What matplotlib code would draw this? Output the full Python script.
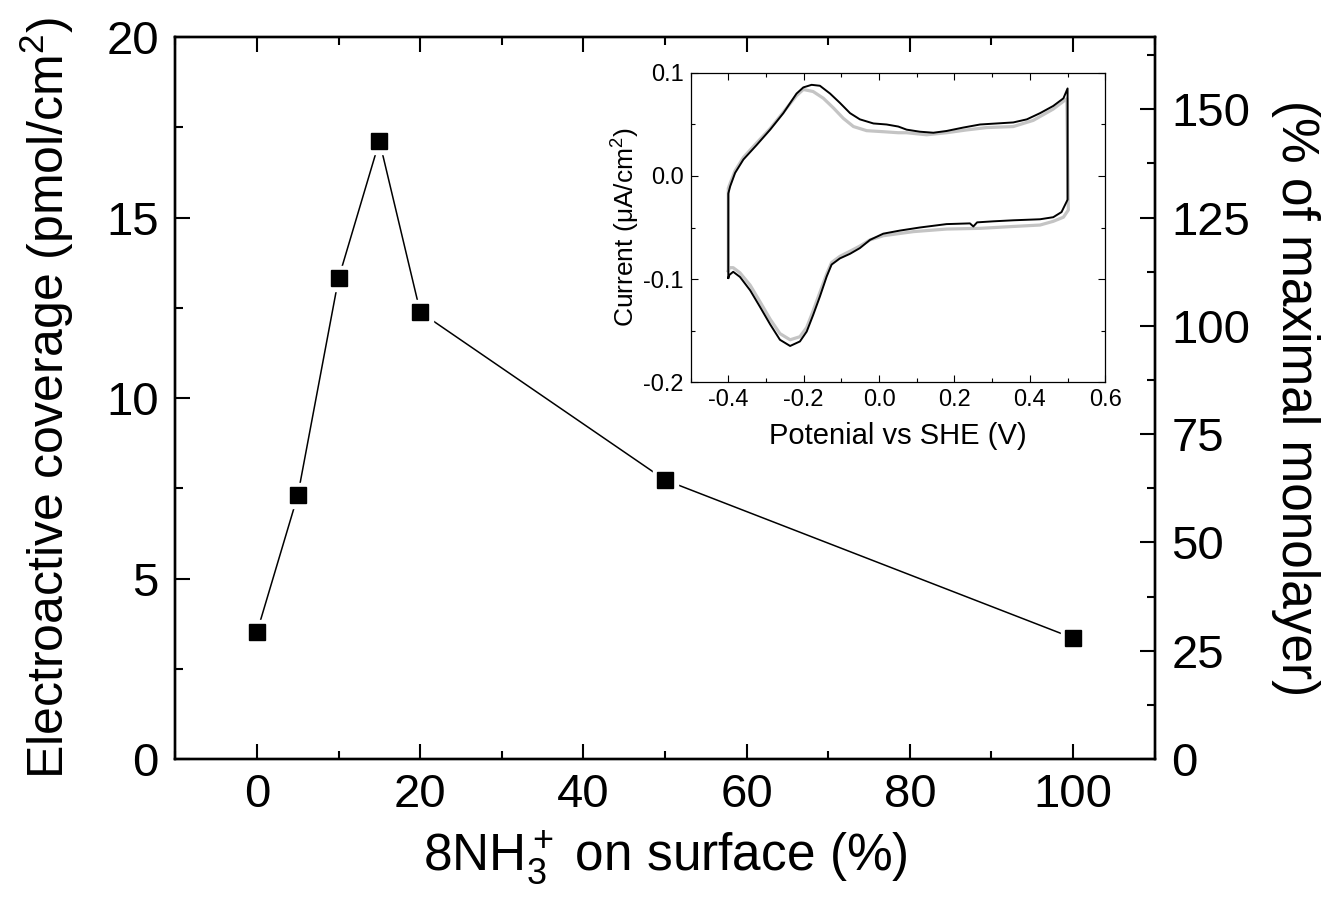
import matplotlib
matplotlib.use('Agg')
import matplotlib.pyplot as plt
from matplotlib.ticker import MultipleLocator
import numpy as np

plt.rcParams['font.family'] = ['Liberation Sans', 'DejaVu Sans']
plt.rcParams['mathtext.fontset'] = 'custom'
plt.rcParams['mathtext.rm'] = 'Liberation Sans'
plt.rcParams['mathtext.it'] = 'Liberation Sans:italic'

# main data: surface fraction of 8NH3+ vs electroactive coverage
nh3_percent = [0, 5, 10, 15, 20, 50, 100]
coverage = [3.52, 7.31, 13.32, 17.12, 12.38, 7.73, 3.35]
monolayer_pmol = 12.0  # 100 % of maximal monolayer

# inset: cyclic voltammograms (black and grey scans)
v_black_up = [-0.400, -0.400, -0.395, -0.382, -0.360, -0.325, -0.289, -0.254, -0.219, -0.201,
              -0.179, -0.157, -0.130, -0.104, -0.077, -0.051, -0.015, 0.020, 0.051, 0.073,
              0.108, 0.144, 0.179, 0.223, 0.268, 0.312, 0.356, 0.392, 0.427, 0.462, 0.489, 0.500]
i_black_up = [-0.099, -0.017, -0.010, 0.003, 0.016, 0.030, 0.045, 0.061, 0.080, 0.086,
              0.0885, 0.0876, 0.080, 0.071, 0.061, 0.055, 0.051, 0.050, 0.048, 0.045,
              0.043, 0.042, 0.0437, 0.047, 0.050, 0.051, 0.052, 0.055, 0.061, 0.068, 0.0754, 0.085]
v_black_dn = [0.500, 0.484, 0.462, 0.427, 0.356, 0.303, 0.260, 0.250, 0.241, 0.179, 0.108,
              0.055, 0.011, -0.024, -0.051, -0.077, -0.104, -0.126, -0.139, -0.157, -0.175,
              -0.192, -0.210, -0.236, -0.263, -0.289, -0.316, -0.342, -0.369, -0.387, -0.397, -0.400]
i_black_dn = [-0.023, -0.035, -0.040, -0.042, -0.043, -0.044, -0.045, -0.049, -0.046, -0.0467, -0.050,
              -0.053, -0.056, -0.062, -0.070, -0.0755, -0.080, -0.086, -0.0975, -0.117, -0.135,
              -0.151, -0.1606, -0.165, -0.159, -0.144, -0.127, -0.111, -0.098, -0.093, -0.096, -0.099]
v_grey_up = [-0.400, -0.400, -0.395, -0.382, -0.360, -0.325, -0.289, -0.254, -0.219, -0.201,
             -0.175, -0.148, -0.121, -0.095, -0.068, -0.033, 0.011, 0.051, 0.073, 0.126,
             0.179, 0.232, 0.285, 0.356, 0.409, 0.462, 0.498]
i_grey_up = [-0.092, -0.012, -0.007, 0.005, 0.018, 0.032, 0.046, 0.062, 0.078, 0.084,
             0.082, 0.0755, 0.066, 0.056, 0.048, 0.044, 0.043, 0.042, 0.042, 0.040,
             0.042, 0.0447, 0.047, 0.048, 0.054, 0.065, 0.075]
v_grey_dn = [0.502, 0.489, 0.462, 0.427, 0.356, 0.268, 0.179, 0.091, 0.051, 0.011, -0.024,
             -0.051, -0.077, -0.104, -0.126, -0.139, -0.157, -0.175, -0.192, -0.210, -0.236,
             -0.263, -0.289, -0.316, -0.342, -0.369, -0.387, -0.397, -0.400]
i_grey_dn = [-0.033, -0.040, -0.044, -0.0476, -0.049, -0.0508, -0.0515, -0.054, -0.056, -0.058, -0.062,
             -0.068, -0.073, -0.078, -0.084, -0.095, -0.113, -0.131, -0.147, -0.156, -0.159,
             -0.153, -0.139, -0.122, -0.106, -0.094, -0.089, -0.089, -0.092]

fig = plt.figure(figsize=(13.24, 9.01), dpi=100)
ax = fig.add_axes([0.1325, 0.1576, 0.7396, 0.8013])

# line with small gaps at the markers, then the black squares
ax.plot(nh3_percent, coverage, '-', color='black', lw=1.1, marker='s', ms=18,
        mfc='white', mec='white', zorder=2)
ax.plot(nh3_percent, coverage, 's', color='black', ms=12, zorder=3)

ax.set_xlim(-10, 110)
ax.set_ylim(0, 20)
ax.xaxis.set_major_locator(MultipleLocator(20))
ax.xaxis.set_minor_locator(MultipleLocator(10))
ax.yaxis.set_major_locator(MultipleLocator(5))
ax.yaxis.set_minor_locator(MultipleLocator(2.5))
ax.tick_params(which='both', direction='in', top=True, right=False, width=1.5, labelsize=34)
ax.tick_params(which='major', length=11)
ax.tick_params(which='minor', length=6)
ax.tick_params(axis='y', pad=12)
ax.tick_params(axis='x', pad=10)
for s in ax.spines.values():
    s.set_linewidth(1.7)
ax.set_xlabel('8NH$_3^+$ on surface (%)', fontsize=37, labelpad=8)
ax.set_ylabel('Electroactive coverage (pmol/cm$^2$)', fontsize=36, labelpad=22)

ax2 = ax.twinx()
ax2.set_ylim(0, 20 / monolayer_pmol * 100)
ax2.yaxis.set_major_locator(MultipleLocator(25))
ax2.yaxis.set_minor_locator(MultipleLocator(12.5))
ax2.tick_params(which='both', direction='in', width=1.5, labelsize=34, pad=12)
ax2.tick_params(which='major', length=11)
ax2.tick_params(which='minor', length=6)
ax2.set_ylabel('(% of maximal monolayer)', fontsize=37, rotation=270, labelpad=50)
for s in ax2.spines.values():
    s.set_linewidth(1.7)

# inset
axi = fig.add_axes([0.5216, 0.576, 0.3132, 0.343])
axi.plot(v_grey_up + v_grey_dn, i_grey_up + i_grey_dn, color='#c4c4c4', lw=2.3)
axi.plot(v_black_up + v_black_dn, i_black_up + i_black_dn, color='black', lw=1.4)
axi.set_xlim(-0.5, 0.6)
axi.set_ylim(-0.2, 0.1)
axi.xaxis.set_major_locator(MultipleLocator(0.2))
axi.xaxis.set_minor_locator(MultipleLocator(0.1))
axi.yaxis.set_major_locator(MultipleLocator(0.1))
axi.yaxis.set_minor_locator(MultipleLocator(0.05))
axi.xaxis.set_major_formatter(plt.FuncFormatter(lambda v, p: f'{v:.1f}'))
axi.yaxis.set_major_formatter(plt.FuncFormatter(lambda v, p: f'{v:.1f}'))
axi.tick_params(which='both', direction='in', top=True, right=True, width=0.8, labelsize=17, pad=5)
axi.tick_params(which='major', length=5)
axi.tick_params(which='minor', length=3)
for s in axi.spines.values():
    s.set_linewidth(0.9)
axi.set_xlabel('Potenial vs SHE (V)', fontsize=21, labelpad=8)
axi.set_ylabel('Current (μA/cm$^2$)', fontsize=19, labelpad=1)

fig.savefig('out.png', dpi=100)
